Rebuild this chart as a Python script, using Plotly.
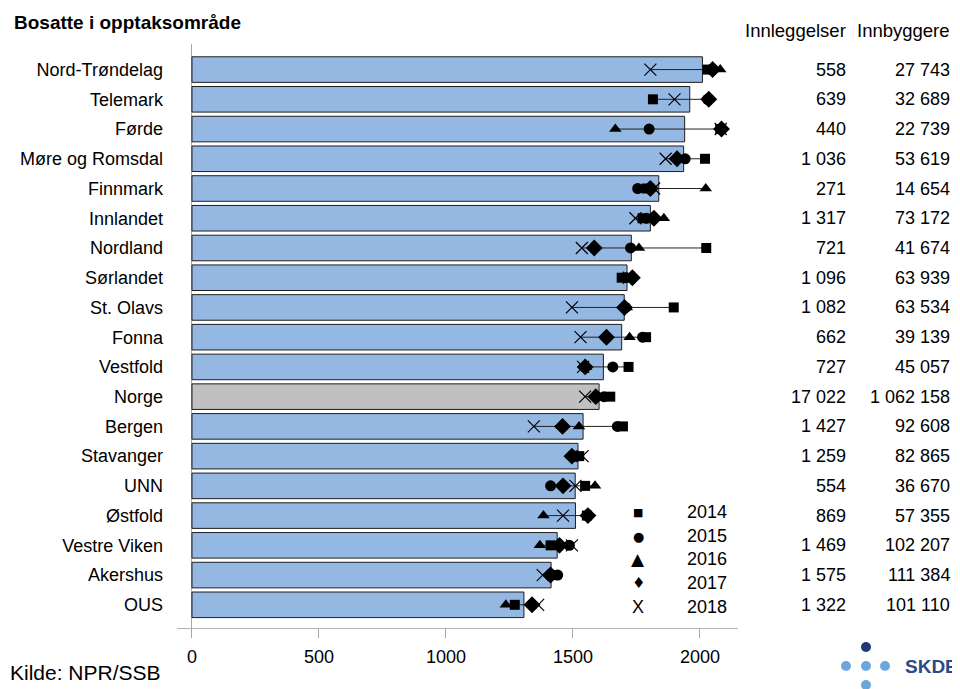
import plotly.graph_objects as go

# ---------------- data ----------------
regions = ["Nord-Trøndelag", "Telemark", "Førde", "Møre og Romsdal", "Finnmark",
           "Innlandet", "Nordland", "Sørlandet", "St. Olavs", "Fonna", "Vestfold",
           "Norge", "Bergen", "Stavanger", "UNN", "Østfold", "Vestre Viken",
           "Akershus", "OUS"]
rate_avg = [2010, 1960, 1940, 1936, 1838, 1805, 1730, 1713, 1702, 1692, 1620,
            1603, 1540, 1520, 1509, 1510, 1438, 1414, 1307]
rate_2014 = [2030, 1815, 2080, 2020, 1790, 1774, 2025, 1692, 1897, 1788, 1719,
             1647, 1697, 1525, 1548, 1555, 1412, 1420, 1271]
rate_2015 = [2045, 2030, 1800, 1942, 1755, 1790, 1727, 1710, 1708, 1774, 1657,
             1622, 1675, 1510, 1412, 1560, 1486, 1440, 1340]
rate_2016 = [2080, 2035, 1667, 1920, 2023, 1858, 1760, 1715, 1712, 1723, 1552,
             1600, 1524, 1520, 1587, 1384, 1370, 1425, 1236]
rate_2017 = [2050, 2035, 2085, 1910, 1805, 1819, 1584, 1734, 1703, 1632, 1548,
             1590, 1459, 1496, 1461, 1559, 1447, 1412, 1339]
rate_2018 = [1805, 1900, 2082, 1865, 1820, 1746, 1535, 1720, 1496, 1530, 1540,
             1548, 1346, 1538, 1510, 1461, 1496, 1381, 1363]
innleggelser = [558, 639, 440, 1036, 271, 1317, 721, 1096, 1082, 662, 727,
                17022, 1427, 1259, 554, 869, 1469, 1575, 1322]
innbyggere = [27743, 32689, 22739, 53619, 14654, 73172, 41674, 63939, 63534,
              39139, 45057, 1062158, 92608, 82865, 36670, 57355, 102207,
              111384, 101110]
years = ["2014", "2015", "2016", "2017", "2018"]
x_ticks = [0, 500, 1000, 1500, 2000]

# ---------------- geometry helpers ----------------
# the page body has an 8px margin, so the figure is placed at (8, 8)
OFF = 8
W, H = 960 - OFF, 689 - OFF
PL, PR, PT, PB = 177, 738, 44, 628      # plot area in window pixels
ML, MR, MT, MB = PL - OFF, W - (PR - OFF), PT - OFF, H - (PB - OFF)
PW, PH = PR - PL, PB - PT


def pxx(px):
    return (px - PL) / PW


def pxy(py):
    return (PB - py) / PH


FONT = "Liberation Sans, Arial, sans-serif"
BLUE = "#95b8e3"
GREY = "#c0c0c0"

fig = go.Figure()

bar_colors = [GREY if r == "Norge" else BLUE for r in regions]
fig.add_trace(go.Bar(
    x=rate_avg, y=regions, orientation="h", width=0.86,
    marker=dict(color=bar_colors, line=dict(color="#1e1e1e", width=1)),
    showlegend=False, hoverinfo="skip"))

# range lines from min to max of yearly values
series = [rate_2014, rate_2015, rate_2016, rate_2017, rate_2018]
lx, ly = [], []
for i, r in enumerate(regions):
    vals = [s[i] for s in series]
    lx += [min(vals), max(vals), None]
    ly += [r, r, None]
fig.add_trace(go.Scatter(x=lx, y=ly, mode="lines",
                         line=dict(color="#222222", width=1),
                         showlegend=False, hoverinfo="skip"))

symbols = [("square", 10, 0), ("circle", 11, 0), ("triangle-up", 11, 0),
           ("diamond", 13, 0), ("x-thin-open", 12, 1.2)]
for yr, s, (sym, size, lw) in zip(years, series, symbols):
    mk = dict(symbol=sym, size=size, color="black")
    if lw:
        mk["line"] = dict(color="black", width=lw)
    else:
        mk["line"] = dict(width=0)
    fig.add_trace(go.Scatter(x=s, y=regions, mode="markers", marker=mk,
                             name=yr, showlegend=False))

ann = []
# title
ann.append(dict(text="<b>Bosatte i opptaksområde</b>", x=pxx(12), y=pxy(23),
                xref="paper", yref="paper", xanchor="left", yanchor="middle",
                showarrow=False, font=dict(family=FONT, size=19, color="black")))
# column headers
ann.append(dict(text="Innleggelser", x=pxx(848), y=pxy(31), xref="paper",
                yref="paper", xanchor="right", yanchor="middle", showarrow=False,
                font=dict(family=FONT, size=18.5, color="black")))
ann.append(dict(text="Innbyggere", x=pxx(952), y=pxy(31), xref="paper",
                yref="paper", xanchor="right", yanchor="middle", showarrow=False,
                font=dict(family=FONT, size=18.5, color="black")))


def fmt(n):
    return f"{n:,}".replace(",", " ")


for r, a, b in zip(regions, innleggelser, innbyggere):
    ann.append(dict(text=fmt(a), x=pxx(848), y=r, xref="paper", yref="y",
                    xanchor="right", yanchor="middle", showarrow=False,
                    font=dict(family=FONT, size=18, color="black")))
    ann.append(dict(text=fmt(b), x=pxx(952), y=r, xref="paper", yref="y",
                    xanchor="right", yanchor="middle", showarrow=False,
                    font=dict(family=FONT, size=18, color="black")))

# legend (as text)
leg_syms = [("■", 11, "DejaVu Sans"), ("●", 13, "DejaVu Sans"),
            ("▲", 17, "DejaVu Sans"), ("♦", 15, "DejaVu Sans"),
            ("X", 18, FONT)]
leg_y = [512, 536, 559, 583, 607]
for (g, gs, gf), yr, py in zip(leg_syms, years, leg_y):
    ann.append(dict(text=g, x=pxx(638), y=pxy(py), xref="paper", yref="paper",
                    xanchor="center", yanchor="middle", showarrow=False,
                    font=dict(family=gf, size=gs, color="black")))
    ann.append(dict(text=yr, x=pxx(685), y=pxy(py), xref="paper", yref="paper",
                    xanchor="left", yanchor="middle", showarrow=False,
                    font=dict(family=FONT, size=18, color="black")))

# source
ann.append(dict(text="Kilde: NPR/SSB", x=pxx(8), y=pxy(672), xref="paper",
                yref="paper", xanchor="left", yanchor="middle", showarrow=False,
                font=dict(family=FONT, size=21, color="black")))
# logo text
ann.append(dict(text="<b>SKDE</b>", x=pxx(903), y=pxy(666), xref="paper",
                yref="paper", xanchor="left", yanchor="middle", showarrow=False,
                font=dict(family=FONT, size=19, color="#2b4a86")))

shapes = []
dots = [(866, 647, "#1f3a73"), (846, 666, "#6ba7dc"), (866, 666, "#6ba7dc"),
        (885, 666, "#6ba7dc"), (866, 685, "#6ba7dc")]
for cx, cy, col in dots:
    shapes.append(dict(type="circle", xref="paper", yref="paper",
                       xsizemode="pixel", ysizemode="pixel",
                       xanchor=pxx(cx), yanchor=pxy(cy),
                       x0=-5, x1=5, y0=-5, y1=5,
                       fillcolor=col, line=dict(width=0), layer="above"))

fig.update_layout(
    width=W, height=H,
    margin=dict(l=ML, r=MR, t=MT, b=MB, autoexpand=False),
    paper_bgcolor="white", plot_bgcolor="white",
    font=dict(family=FONT, size=18, color="black"),
    bargap=0.14,
    annotations=ann, shapes=shapes, showlegend=False,
    xaxis=dict(range=[-59, 2150], tickvals=x_ticks, ticks="outside", ticklen=9,
               tickcolor="#a6a6a6", tickwidth=1, showline=True,
               linecolor="#b4b4b4", linewidth=1, zeroline=True,
               zerolinecolor="#a6a6a6", zerolinewidth=1, showgrid=False,
               tickfont=dict(family=FONT, size=18, color="black"),
               ticklabelstandoff=3),
    yaxis=dict(type="category", categoryorder="array", categoryarray=regions,
               range=[18.78, -0.86], showgrid=False, zeroline=False,
               showline=False, ticks="", ticklabelstandoff=13,
               tickfont=dict(family=FONT, size=18, color="black")),
)

fig.write_html("out.html")
